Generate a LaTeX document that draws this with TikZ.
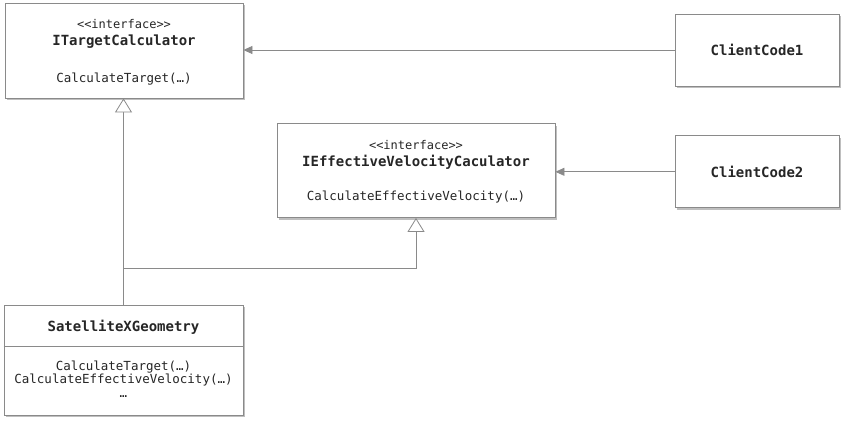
\documentclass[tikz,border=0pt]{standalone}
\usepackage{fontspec}
\setmonofont{DejaVu Sans Mono}
\usetikzlibrary{positioning,shadows,arrows.meta}
\definecolor{umlline}{HTML}{8A8A8A}
\definecolor{umltext}{HTML}{262626}
\tikzset{
    umlbox/.style={draw=umlline, fill=white, line width=0.8pt, inner sep=0pt,
        drop shadow={shadow xshift=2pt, shadow yshift=-2pt, opacity=0.5}},
    stereo/.style={font=\ttfamily\fontsize{12}{14}\selectfont, text=umltext, inner sep=0pt},
    classname/.style={font=\ttfamily\bfseries\fontsize{14}{16}\selectfont, text=umltext, inner sep=0pt},
    member/.style={font=\ttfamily\fontsize{12.5}{13.5}\selectfont, text=umltext, inner sep=0pt, align=center},
    uses/.style={draw=umlline, line width=0.8pt, -{Triangle[length=9pt,width=8pt]}},
    realizes/.style={draw=umlline, line width=0.8pt, -{Triangle[open,length=14pt,width=17pt,fill=white]}},
}

\begin{document}
\begin{tikzpicture}[x=1pt, y=-1pt]
    \useasboundingbox (0,0) rectangle (846,424);
    \node[umlbox, minimum width=238pt, minimum height=95pt] (itc) at (124,50.5) {};
    \node[stereo] (itcstereo) at (124,24) {\textless\textless interface\textgreater\textgreater};
    \node[classname] (itcname) at (124,42) {ITargetCalculator};
    \node[member] (itcop) at (124,79) {CalculateTarget(…)};
    \node[umlbox, minimum width=278pt, minimum height=94pt] (ievc) at (416,170.5) {};
    \node[stereo] (ievcstereo) at (416,145.5) {\textless\textless interface\textgreater\textgreater};
    \node[classname] (ievcname) at (416,162.5) {IEffectiveVelocityCaculator};
    \node[member] (ievcop) at (416,197.5) {CalculateEffectiveVelocity(…)};
    \node[umlbox, minimum width=164pt, minimum height=72pt] (cc1) at (757,50) {};
    \node[classname] (cc1name) at (cc1) {ClientCode1};
    \node[umlbox, minimum width=164pt, minimum height=72pt, below=49pt of cc1] (cc2) {};
    \node[classname] (cc2name) at (cc2) {ClientCode2};
    \node[umlbox, minimum width=239pt, minimum height=110pt] (sat) at (123.5,360) {};
    \node[classname] (satname) at (123.5,327.5) {SatelliteXGeometry};
    \node[member] (satops) at (123.5,379) {CalculateTarget(…)\\CalculateEffectiveVelocity(…)\\…};
    \draw[umlline, line width=0.8pt] (sat.west |- 0,346) -- (sat.east |- 0,346);
    \coordinate (branch) at (sat.north |- 0,268);
    \draw[uses] (cc1.west) -- (cc1.west -| itc.east);
    \draw[uses] (cc2.west) -- (cc2.west -| ievc.east);
    \draw[realizes] (sat.north) -- (sat.north |- itc.south);
    \draw[realizes] (branch) -| (ievc.south);
\end{tikzpicture}
\end{document}
